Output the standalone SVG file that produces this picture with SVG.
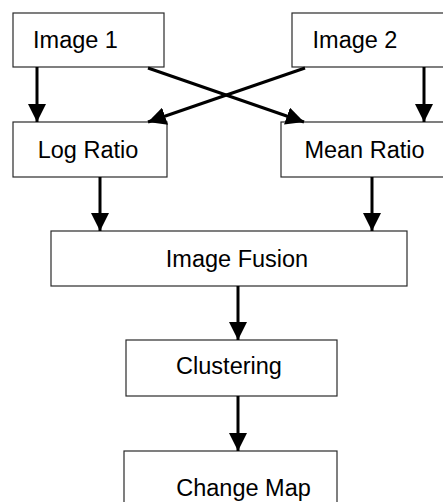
<svg xmlns="http://www.w3.org/2000/svg" width="443" height="502" viewBox="0 0 443 502">
<style>
.box{fill:#fff;stroke:#2a2a2a;stroke-width:1.2}
.lbl{font-family:"Liberation Sans",Arial,sans-serif;font-size:23.5px;fill:#000;text-anchor:middle}
.edge{stroke:#000;stroke-width:3;fill:none;marker-end:url(#ah)}
</style>
<defs>
<marker id="ah" markerUnits="userSpaceOnUse" markerWidth="18" markerHeight="18" viewBox="0 0 16 16" refX="16" refY="8" orient="auto">
<path d="M0,0 L16,8 L0,16 Z" fill="#000"/>
</marker>
</defs>
<rect width="443" height="502" fill="#fff"/>
<g id="n-image1"><rect class="box" x="13" y="13" width="151" height="54"/><text class="lbl" x="75.5" y="48">Image 1</text></g>
<g id="n-image2"><rect class="box" x="292" y="13" width="152" height="54"/><text class="lbl" x="355" y="48">Image 2</text></g>
<g id="n-log"><rect class="box" x="13" y="122" width="154" height="55"/><text class="lbl" x="88" y="158">Log Ratio</text></g>
<g id="n-mean"><rect class="box" x="281" y="122" width="163" height="55"/><text class="lbl" x="364.5" y="158">Mean Ratio</text></g>
<g id="n-fusion"><rect class="box" x="51" y="231" width="356" height="55"/><text class="lbl" x="237" y="267">Image Fusion</text></g>
<g id="n-cluster"><rect class="box" x="126" y="340" width="211" height="56"/><text class="lbl" x="229" y="374">Clustering</text></g>
<g id="n-change"><rect class="box" x="124" y="451" width="213" height="60"/><text class="lbl" x="243.5" y="496">Change Map</text></g>
<g id="connectors">
<line class="edge" x1="37" y1="67" x2="37" y2="122"/>
<line class="edge" x1="424" y1="67" x2="424" y2="122"/>
<line class="edge" x1="148" y1="68" x2="304" y2="122"/>
<line class="edge" x1="305" y1="68" x2="148" y2="122"/>
<line class="edge" x1="100" y1="177" x2="100" y2="231"/>
<line class="edge" x1="372" y1="177" x2="372" y2="231"/>
<line class="edge" x1="238" y1="286" x2="238" y2="340"/>
<line class="edge" x1="238" y1="396" x2="238" y2="451"/>
</g>
</svg>
